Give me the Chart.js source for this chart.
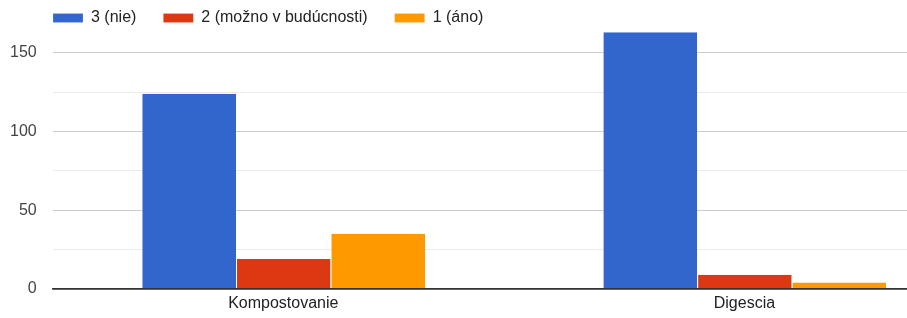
<!DOCTYPE html>
<html>
<head>
<meta charset="utf-8">
<script src="https://cdn.jsdelivr.net/npm/chart.js@4"></script>
<style>
  html, body { margin: 0; padding: 0; background: #fff; overflow: hidden; width: 907px; height: 318px; }
  #wrap { position: relative; width: 907px; height: 318px; overflow: hidden; }
  #wrap canvas { position: absolute; left: 0; top: 0; }
</style>
</head>
<body>
<div id="wrap"><canvas id="chart" width="975" height="318"></canvas></div>
<script>
// Kategórie a hodnoty
const categories = ["Kompostovanie", "Digescia"];
const nie = [124, 163];
const mozno = [19, 9];
const ano = [35, 4];
const seriesLabels = ["3 (nie)", "2 (možno v budúcnosti)", "1 (áno)"];
const colors = ["#3366cc", "#dc3912", "#ff9900"];

Chart.defaults.font.family = "Arial, 'Liberation Sans', sans-serif";
Chart.defaults.font.size = 16;

// legenda: menšia výška a posun doprava (zarovnanie s grafom)
const legendSpacing = {
    id: "legendSpacing",
    afterInit(chart) {
        const origFit = chart.legend.fit;
        chart.legend.fit = function () {
            origFit.call(this);
            this.height -= 10;
        };
    },
    afterLayout(chart) {
        chart.legend.left += 32;
        chart.legend.right += 32;
    },
};

const chart = new Chart(document.getElementById("chart"), {
    type: "bar",
    data: {
        labels: categories,
        datasets: [nie, mozno, ano].map((d, i) => ({
            label: seriesLabels[i],
            data: d,
            backgroundColor: colors[i],
            borderColor: "rgba(255,255,255,0.6)",
            borderWidth: { left: 1, right: 0, top: 0, bottom: 0 },
            categoryPercentage: 0.615,
            barPercentage: 1,
        })),
    },
    plugins: [legendSpacing],
    options: {
        responsive: false,
        animation: false,
        layout: { padding: { left: -6, right: 0, top: -17, bottom: 0 } },
        plugins: {
            legend: {
                position: "top",
                align: "start",
                labels: {
                    boxWidth: 30,
                    boxHeight: 9,
                    padding: 27,
                    color: "#222",
                },
            },
            tooltip: { enabled: false },
        },
        scales: {
            x: {
                grid: { display: false, drawTicks: false },
                border: { color: "#333", width: 1.5 },
                ticks: { color: "#222", padding: 5 },
            },
            y: {
                min: 0,
                max: 167,
                afterBuildTicks: (scale) => {
                    scale.ticks = scale.ticks.filter((t) => t.value % 25 === 0);
                },
                ticks: {
                    stepSize: 25,
                    color: "#444",
                    padding: 16,
                    callback: (v) => (v % 50 === 0 ? v : ""),
                },
                grid: {
                    drawTicks: false,
                    color: (ctx) =>
                        ctx.tick.value === 0 ? "#333" : ctx.tick.value % 50 === 0 ? "#ccc" : "#ebebeb",
                    lineWidth: (ctx) => (ctx.tick.value === 0 ? 1.5 : 1),
                },
                border: { display: false },
            },
        },
    },
});
</script>
</body>
</html>
